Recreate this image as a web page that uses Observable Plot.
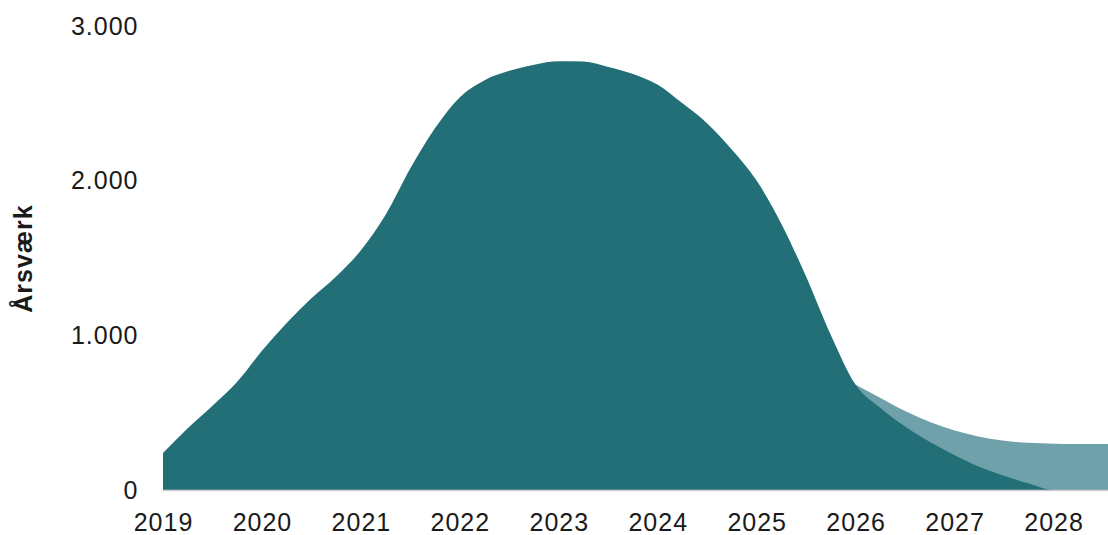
<!DOCTYPE html>
<html>
<head>
<meta charset="utf-8">
<script src="https://cdn.jsdelivr.net/npm/d3@7"></script>
<script src="https://cdn.jsdelivr.net/npm/@observablehq/plot@0.6"></script>
<style>
  html, body { margin: 0; padding: 0; background: #fff; }
  #chart { width: 1108px; height: 535px; }
</style>
</head>
<body>
<div id="chart"></div>
<script>
// Quarterly time points (fractional years)
const darkYears = [2019.00, 2019.25, 2019.50, 2019.75, 2020.00, 2020.25, 2020.50, 2020.75,
  2021.00, 2021.25, 2021.50, 2021.75, 2022.00, 2022.25, 2022.50, 2022.75,
  2023.00, 2023.25, 2023.50, 2023.75, 2024.00, 2024.25, 2024.50, 2024.75,
  2025.00, 2025.25, 2025.50, 2025.75, 2026.00, 2026.25, 2026.50, 2026.75,
  2027.00, 2027.25, 2027.50, 2027.75, 2028.00, 2028.25, 2028.55];
// Dark series (Årsværk)
const darkValues = [240, 400, 545, 700, 900, 1080, 1240, 1380,
  1550, 1780, 2080, 2340, 2540, 2650, 2710, 2750,
  2772, 2770, 2735, 2690, 2620, 2500, 2370, 2200,
  2000, 1720, 1378, 1000, 680, 530, 410, 310,
  225, 150, 92, 42, 0, 0, 0];
// Light series (total incl. additional) from 2026
const lightYears = [2026.00, 2026.25, 2026.50, 2026.75, 2027.00, 2027.25, 2027.50, 2027.75, 2028.00, 2028.25, 2028.55];
const lightValues = [680, 595, 510, 440, 385, 345, 318, 305, 299, 297, 297];

const xTicks = [2019, 2020, 2021, 2022, 2023, 2024, 2025, 2026, 2027, 2028];
const yTicks = [0, 1000, 2000, 3000];
const yLabel = "Årsværk";

const dark = darkYears.map((x, i) => ({x, y: darkValues[i]}));
const light = lightYears.map((x, i) => ({x, y: lightValues[i]}));

const da = d3.formatLocale({decimal: ",", thousands: ".", grouping: [3], currency: ["", " kr."]});
const fmt = da.format(",d");

const chart = Plot.plot({
  width: 1108,
  height: 535,
  marginLeft: 163,
  marginRight: 0,
  marginTop: 26,
  marginBottom: 45,
  style: {fontFamily: "'Liberation Sans', Arial, sans-serif", fontSize: "25px", letterSpacing: "1px", color: "#1a1a1a", background: "#fff", overflow: "visible"},
  x: {domain: [2019, 2028.55], ticks: xTicks, tickFormat: d => String(d), tickSize: 0, tickPadding: 23, label: null},
  y: {domain: [0, 3000], ticks: yTicks, tickFormat: fmt, tickSize: 0, tickPadding: 25, label: null},
  marks: [
    Plot.areaY(light, {x: "x", y: "y", fill: "#6fa1aa", curve: "monotone-x"}),
    Plot.areaY(dark, {x: "x", y: "y", fill: "#236f78", curve: "monotone-x"}),
    Plot.ruleY([0], {stroke: "#cfcfcf", strokeWidth: 1.5}),
    Plot.text([yLabel], {frameAnchor: "left", dx: -140, rotate: -90, text: d => d, fontWeight: "bold", fontSize: 25, fill: "#1a1a1a", textAnchor: "middle"})
  ]
});
document.getElementById("chart").appendChild(chart);
</script>
</body>
</html>
